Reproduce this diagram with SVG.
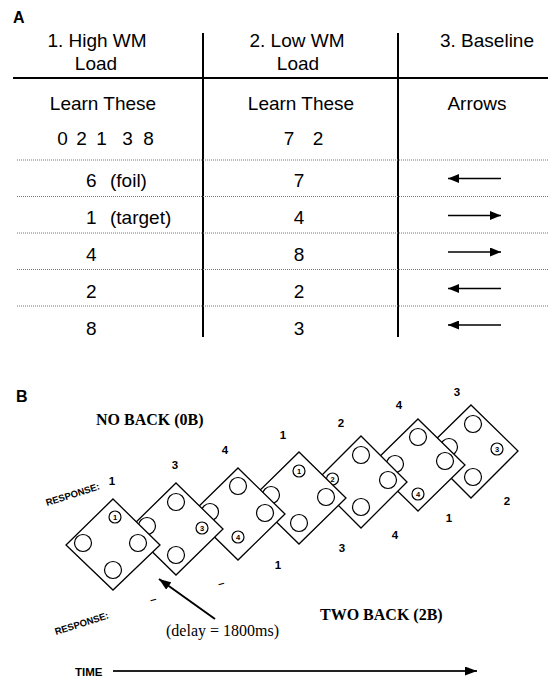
<svg xmlns="http://www.w3.org/2000/svg" width="548" height="677" viewBox="0 0 548 677">
<style>
.t{font-family:"Liberation Sans",Arial,sans-serif;font-size:19px;fill:#000}
.m{text-anchor:middle}
.lab{font-family:"Liberation Sans",Arial,sans-serif;font-weight:bold;fill:#000}
.ser{font-family:"Liberation Serif","Times New Roman",serif;fill:#000}
.dig{font-family:"Liberation Sans",Arial,sans-serif;font-weight:bold;font-size:11.5px;text-anchor:middle;fill:#000}
.cn{font-family:"Liberation Sans",Arial,sans-serif;font-weight:bold;font-size:7.5px;text-anchor:middle;fill:#000}
.dot{stroke:#777;stroke-width:1;stroke-dasharray:1 1;fill:none}
.rule{stroke:#000;stroke-width:2;fill:none}
.dm{fill:#fff;stroke:#000;stroke-width:1.3}
.c{fill:#fff;stroke:#000;stroke-width:1.2}
.arr{stroke:#000;stroke-width:1.7;fill:none}
</style>
<defs>
<marker id="ah" viewBox="0 0 11 9" refX="11" refY="4.5" markerWidth="11" markerHeight="9" markerUnits="userSpaceOnUse" orient="auto">
<path d="M0,0 L11,4.5 L0,9 z" fill="#000"/>
</marker>
<marker id="ah2" viewBox="0 0 12 9" refX="12" refY="4.5" markerWidth="12" markerHeight="9" markerUnits="userSpaceOnUse" orient="auto">
<path d="M0,0 L12,4.5 L0,9 z" fill="#000"/>
</marker>
</defs>

<g id="panelA">
<text class="lab" x="13" y="23" font-size="16">A</text>
<line class="rule" x1="203" y1="33" x2="203" y2="337"/>
<line class="rule" x1="398" y1="33" x2="398" y2="337"/>
<line class="rule" x1="13" y1="78" x2="548" y2="78"/>
<line class="dot" x1="17" y1="160" x2="548" y2="160"/>
<line class="dot" x1="17" y1="196.5" x2="548" y2="196.5"/>
<line class="dot" x1="17" y1="233" x2="548" y2="233"/>
<line class="dot" x1="17" y1="269.5" x2="548" y2="269.5"/>
<line class="dot" x1="17" y1="306" x2="548" y2="306"/>

<g id="col1">
<text class="t m" x="97" y="47">1. High WM</text>
<text class="t m" x="96" y="70">Load</text>
<text class="t m" x="103" y="110">Learn These</text>
<text class="t m" x="62.5 81.5 101.5 127.5 148.5" y="145">02138</text>
<text class="t" x="86" y="187">6</text><text class="t" x="110" y="187">(foil)</text>
<text class="t" x="86" y="224">1</text><text class="t" x="110" y="224">(target)</text>
<text class="t" x="86" y="261">4</text>
<text class="t" x="86" y="298">2</text>
<text class="t" x="86" y="335">8</text>
</g>
<g id="col2">
<text class="t m" x="297" y="47">2. Low WM</text>
<text class="t m" x="298" y="70">Load</text>
<text class="t m" x="301" y="110">Learn These</text>
<text class="t m" x="289 318" y="145">72</text>
<text class="t m" x="299" y="187">7</text>
<text class="t m" x="299" y="224">4</text>
<text class="t m" x="299" y="261">8</text>
<text class="t m" x="299" y="298">2</text>
<text class="t m" x="299" y="335">3</text>
</g>
<g id="col3">
<text class="t m" x="487" y="47">3. Baseline</text>
<text class="t m" x="477" y="110">Arrows</text>
</g>
</g>

<g id="connectors">
<line class="arr" x1="501" y1="178.5" x2="448" y2="178.5" marker-end="url(#ah)"/>
<line class="arr" x1="448" y1="215.5" x2="501" y2="215.5" marker-end="url(#ah)"/>
<line class="arr" x1="448" y1="252" x2="501" y2="252" marker-end="url(#ah)"/>
<line class="arr" x1="501" y1="288.5" x2="448" y2="288.5" marker-end="url(#ah)"/>
<line class="arr" x1="501" y1="325" x2="448" y2="325" marker-end="url(#ah)"/>
<line stroke="#000" stroke-width="2" x1="215" y1="619" x2="159" y2="579" marker-end="url(#ah2)"/>
<line stroke="#222" stroke-width="2" x1="113" y1="671" x2="477" y2="671" marker-end="url(#ah2)"/>
</g>

<g id="panelB">
<text class="lab" x="16" y="402" font-size="16">B</text>
<text class="ser" x="96" y="425" font-size="16" font-weight="bold">NO BACK (0B)</text>
<text class="ser" x="320" y="620" font-size="16" font-weight="bold">TWO BACK (2B)</text>
<text class="ser" x="166" y="636" font-size="16">(delay = 1800ms)</text>
<text class="lab" font-size="9.5" transform="translate(47,506) rotate(-17.5)">RESPONSE:</text>
<text class="lab" font-size="9.5" transform="translate(56,635) rotate(-17.5)">RESPONSE:</text>
<text class="lab" x="75" y="676" font-size="11.5">TIME</text>
</g>

<g id="d7">
<polygon class="dm" points="471,405 518,451 471,498 424,451"/>
<circle class="c" cx="473" cy="424" r="8.5"/>
<circle class="c" cx="497" cy="449" r="6"/><text class="cn" x="497" y="452">3</text>
<circle class="c" cx="473" cy="477" r="8.5"/>
<circle class="c" cx="449" cy="447" r="8.5"/>
</g>
<g id="d6">
<polygon class="dm" points="418,419 465,465 418,511 371,465"/>
<circle class="c" cx="418" cy="437" r="8.5"/>
<circle class="c" cx="445" cy="461" r="8.5"/>
<circle class="c" cx="418" cy="494" r="6"/><text class="cn" x="418" y="497">4</text>
<circle class="c" cx="395" cy="464" r="8.5"/>
</g>
<g id="d5">
<polygon class="dm" points="361,436 407,482 361,528 315,482"/>
<circle class="c" cx="361" cy="455" r="8.5"/>
<circle class="c" cx="388" cy="480" r="8.5"/>
<circle class="c" cx="361" cy="507" r="8.5"/>
<circle class="c" cx="332.5" cy="479" r="6"/><text class="cn" x="332.5" y="482">2</text>
</g>
<g id="d4">
<polygon class="dm" points="299,452 346,498 299,544 252,498"/>
<circle class="c" cx="299" cy="471" r="6"/><text class="cn" x="299" y="474">1</text>
<circle class="c" cx="326" cy="497" r="8.5"/>
<circle class="c" cx="299" cy="523" r="8.5"/>
<circle class="c" cx="271" cy="495" r="8.5"/>
</g>
<g id="d3">
<polygon class="dm" points="238,468 285,514 238,560 191,514"/>
<circle class="c" cx="238" cy="486" r="8.5"/>
<circle class="c" cx="265" cy="513" r="8.5"/>
<circle class="c" cx="238" cy="537" r="6"/><text class="cn" x="238" y="540">4</text>
<circle class="c" cx="210" cy="512" r="8.5"/>
</g>
<g id="d2">
<polygon class="dm" points="176,483 223,529 176,575 129,529"/>
<circle class="c" cx="176" cy="502" r="8.5"/>
<circle class="c" cx="202" cy="528" r="6"/><text class="cn" x="202" y="531">3</text>
<circle class="c" cx="176" cy="555" r="8.5"/>
<circle class="c" cx="147" cy="526" r="8.5"/>
</g>
<g id="d1">
<polygon class="dm" points="113,499 160,545 113,590 66,545"/>
<circle class="c" cx="115" cy="517" r="6"/><text class="cn" x="115" y="520">1</text>
<circle class="c" cx="83" cy="543" r="8.5"/>
<circle class="c" cx="138" cy="543" r="8.5"/>
<circle class="c" cx="113" cy="570" r="8.5"/>
</g>

<g id="responses0B">
<text class="dig" x="112" y="485">1</text>
<text class="dig" x="175" y="469">3</text>
<text class="dig" x="225" y="454">4</text>
<text class="dig" x="283" y="439">1</text>
<text class="dig" x="341" y="427">2</text>
<text class="dig" x="399" y="409">4</text>
<text class="dig" x="457" y="396">3</text>
</g>
<g id="responses2B">
<text class="dig" x="153" y="603" font-size="14" transform="rotate(-15 153 599)">–</text>
<text class="dig" x="221" y="587" font-size="14" transform="rotate(-15 221 583)">–</text>
<text class="dig" x="278" y="569">1</text>
<text class="dig" x="342" y="552">3</text>
<text class="dig" x="395" y="539">4</text>
<text class="dig" x="449" y="522">1</text>
<text class="dig" x="507" y="505">2</text>
</g>
</svg>
